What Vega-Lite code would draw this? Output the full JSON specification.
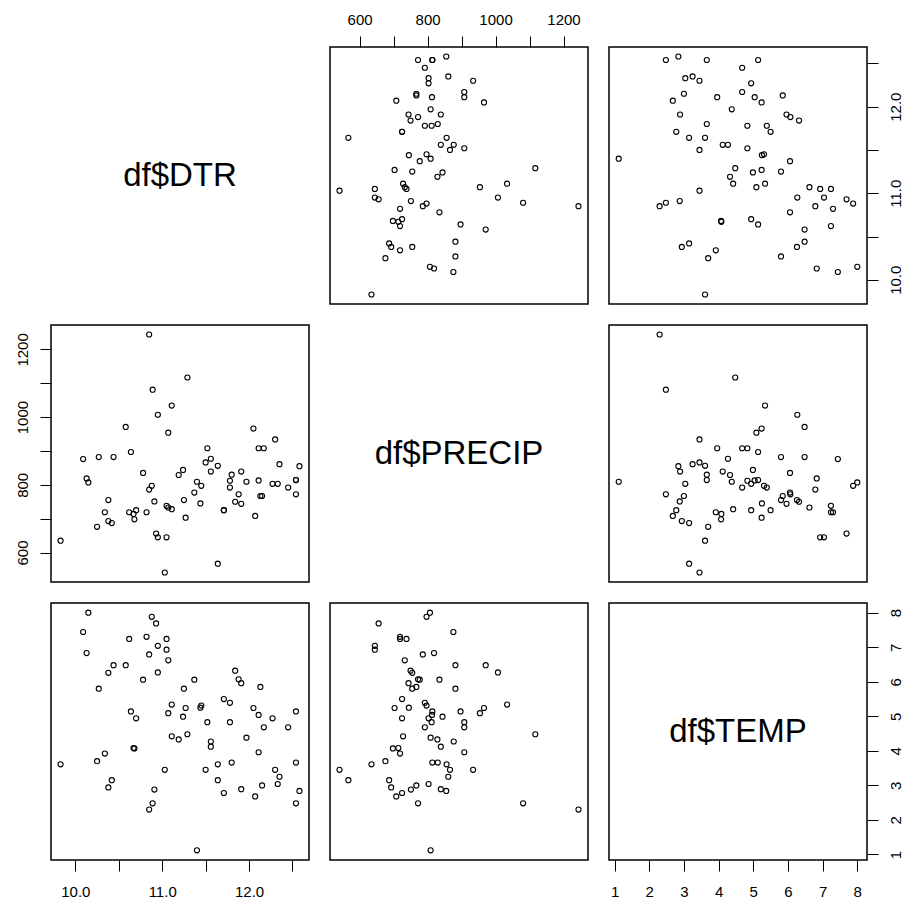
{
  "$schema": "https://vega.github.io/schema/vega-lite/v6.json",
  "padding": {"left": 14, "top": 11, "right": 5, "bottom": 5},
  "background": "white",
  "data": {"values": [
    {"DTR": 10.15, "PRECIP": 807, "TEMP": 8.00},
    {"DTR": 10.88, "PRECIP": 797, "TEMP": 7.88},
    {"DTR": 10.93, "PRECIP": 656, "TEMP": 7.69},
    {"DTR": 10.09, "PRECIP": 876, "TEMP": 7.44},
    {"DTR": 10.62, "PRECIP": 719, "TEMP": 7.24},
    {"DTR": 10.82, "PRECIP": 719, "TEMP": 7.30},
    {"DTR": 11.05, "PRECIP": 738, "TEMP": 7.24},
    {"DTR": 10.95, "PRECIP": 645, "TEMP": 7.04},
    {"DTR": 11.05, "PRECIP": 645, "TEMP": 6.93},
    {"DTR": 10.13, "PRECIP": 819, "TEMP": 6.83},
    {"DTR": 10.85, "PRECIP": 786, "TEMP": 6.79},
    {"DTR": 11.07, "PRECIP": 733, "TEMP": 6.62},
    {"DTR": 10.44, "PRECIP": 882, "TEMP": 6.48},
    {"DTR": 10.58, "PRECIP": 971, "TEMP": 6.48},
    {"DTR": 10.38, "PRECIP": 755, "TEMP": 6.26},
    {"DTR": 10.95, "PRECIP": 1007, "TEMP": 6.27},
    {"DTR": 10.78, "PRECIP": 835, "TEMP": 6.06},
    {"DTR": 10.27, "PRECIP": 882, "TEMP": 5.80},
    {"DTR": 11.25, "PRECIP": 755, "TEMP": 5.80},
    {"DTR": 11.37, "PRECIP": 777, "TEMP": 6.06},
    {"DTR": 11.84, "PRECIP": 750, "TEMP": 6.32},
    {"DTR": 11.88, "PRECIP": 772, "TEMP": 6.07},
    {"DTR": 11.91, "PRECIP": 744, "TEMP": 5.96},
    {"DTR": 12.13, "PRECIP": 767, "TEMP": 5.85},
    {"DTR": 11.11, "PRECIP": 1034, "TEMP": 5.34},
    {"DTR": 11.27, "PRECIP": 703, "TEMP": 5.24},
    {"DTR": 11.07, "PRECIP": 954, "TEMP": 5.09},
    {"DTR": 11.24, "PRECIP": 844, "TEMP": 4.99},
    {"DTR": 11.44, "PRECIP": 745, "TEMP": 5.25},
    {"DTR": 11.45, "PRECIP": 797, "TEMP": 5.31},
    {"DTR": 11.71, "PRECIP": 725, "TEMP": 5.50},
    {"DTR": 11.78, "PRECIP": 792, "TEMP": 5.39},
    {"DTR": 12.05, "PRECIP": 966, "TEMP": 5.24},
    {"DTR": 12.11, "PRECIP": 813, "TEMP": 5.04},
    {"DTR": 12.27, "PRECIP": 803, "TEMP": 4.94},
    {"DTR": 12.54, "PRECIP": 814, "TEMP": 5.14},
    {"DTR": 10.64, "PRECIP": 897, "TEMP": 5.14},
    {"DTR": 10.70, "PRECIP": 725, "TEMP": 4.94},
    {"DTR": 11.52, "PRECIP": 908, "TEMP": 4.83},
    {"DTR": 11.78, "PRECIP": 812, "TEMP": 4.83},
    {"DTR": 12.17, "PRECIP": 908, "TEMP": 4.68},
    {"DTR": 12.45, "PRECIP": 792, "TEMP": 4.68},
    {"DTR": 11.11, "PRECIP": 728, "TEMP": 4.42},
    {"DTR": 11.19, "PRECIP": 829, "TEMP": 4.33},
    {"DTR": 11.29, "PRECIP": 1117, "TEMP": 4.48},
    {"DTR": 11.97, "PRECIP": 809, "TEMP": 4.38},
    {"DTR": 11.56, "PRECIP": 877, "TEMP": 4.27},
    {"DTR": 11.56, "PRECIP": 839, "TEMP": 4.12},
    {"DTR": 10.68, "PRECIP": 698, "TEMP": 4.07},
    {"DTR": 10.67, "PRECIP": 714, "TEMP": 4.08},
    {"DTR": 10.34, "PRECIP": 719, "TEMP": 3.92},
    {"DTR": 10.25, "PRECIP": 676, "TEMP": 3.70},
    {"DTR": 12.11, "PRECIP": 908, "TEMP": 3.96},
    {"DTR": 9.83, "PRECIP": 635, "TEMP": 3.61},
    {"DTR": 11.03, "PRECIP": 541, "TEMP": 3.45},
    {"DTR": 11.50, "PRECIP": 866, "TEMP": 3.45},
    {"DTR": 11.64, "PRECIP": 856, "TEMP": 3.61},
    {"DTR": 11.80, "PRECIP": 830, "TEMP": 3.66},
    {"DTR": 12.54, "PRECIP": 814, "TEMP": 3.66},
    {"DTR": 12.30, "PRECIP": 934, "TEMP": 3.45},
    {"DTR": 12.35, "PRECIP": 861, "TEMP": 3.25},
    {"DTR": 12.33, "PRECIP": 803, "TEMP": 3.04},
    {"DTR": 11.64, "PRECIP": 567, "TEMP": 3.15},
    {"DTR": 10.42, "PRECIP": 687, "TEMP": 3.15},
    {"DTR": 10.38, "PRECIP": 693, "TEMP": 2.94},
    {"DTR": 10.91, "PRECIP": 751, "TEMP": 2.88},
    {"DTR": 11.71, "PRECIP": 725, "TEMP": 2.78},
    {"DTR": 11.91, "PRECIP": 839, "TEMP": 2.89},
    {"DTR": 12.07, "PRECIP": 708, "TEMP": 2.68},
    {"DTR": 12.15, "PRECIP": 767, "TEMP": 3.00},
    {"DTR": 12.58, "PRECIP": 855, "TEMP": 2.84},
    {"DTR": 10.89, "PRECIP": 1081, "TEMP": 2.48},
    {"DTR": 10.85, "PRECIP": 1244, "TEMP": 2.30},
    {"DTR": 12.54, "PRECIP": 772, "TEMP": 2.48},
    {"DTR": 11.40, "PRECIP": 809, "TEMP": 1.12}
  ]},
  "columns": 3,
  "spacing": 21,
  "bounds": "flush",
  "concat": [
    {
      "width": 258, "height": 257,
      "data": {"values": [{"label": "df$DTR"}]},
      "mark": {"type": "text", "font": "Liberation Sans", "fontSize": 33, "color": "black", "align": "center", "baseline": "middle"},
      "encoding": {"text": {"field": "label"}}
    },
    {
      "width": 258, "height": 257,
      "mark": {"type": "point", "shape": "circle", "filled": false, "color": "black", "size": 26, "strokeWidth": 1.1, "opacity": 1},
      "encoding": {
        "x": {"field": "PRECIP", "type": "quantitative", "scale": {"domain": [513, 1272], "nice": false, "zero": false},
              "axis": {"orient": "top", "values": [600, 700, 800, 900, 1000, 1100, 1200], "labelExpr": "datum.value % 200 === 0 ? format(datum.value, 'd') : ''", "labelPadding": 9}},
        "y": {"field": "DTR", "type": "quantitative", "scale": {"domain": [9.72, 12.69], "nice": false, "zero": false}, "axis": null}
      }
    },
    {
      "width": 258, "height": 257,
      "mark": {"type": "point", "shape": "circle", "filled": false, "color": "black", "size": 26, "strokeWidth": 1.1, "opacity": 1},
      "encoding": {
        "x": {"field": "TEMP", "type": "quantitative", "scale": {"domain": [0.84, 8.28], "nice": false, "zero": false}, "axis": null},
        "y": {"field": "DTR", "type": "quantitative", "scale": {"domain": [9.72, 12.69], "nice": false, "zero": false},
              "axis": {"orient": "right", "values": [10, 10.5, 11, 11.5, 12, 12.5], "labelExpr": "datum.value % 1 === 0 ? format(datum.value, '.1f') : ''", "labelAngle": -90, "labelAlign": "center", "labelBaseline": "top", "labelPadding": 10}}
      }
    },
    {
      "width": 258, "height": 257,
      "mark": {"type": "point", "shape": "circle", "filled": false, "color": "black", "size": 26, "strokeWidth": 1.1, "opacity": 1},
      "encoding": {
        "x": {"field": "DTR", "type": "quantitative", "scale": {"domain": [9.72, 12.69], "nice": false, "zero": false}, "axis": null},
        "y": {"field": "PRECIP", "type": "quantitative", "scale": {"domain": [513, 1272], "nice": false, "zero": false},
              "axis": {"orient": "left", "values": [600, 700, 800, 900, 1000, 1100, 1200], "labelExpr": "datum.value % 200 === 0 ? format(datum.value, 'd') : ''", "labelAngle": -90, "labelAlign": "center", "labelBaseline": "bottom", "labelPadding": 10}}
      }
    },
    {
      "width": 258, "height": 257,
      "data": {"values": [{"label": "df$PRECIP"}]},
      "mark": {"type": "text", "font": "Liberation Sans", "fontSize": 33, "color": "black", "align": "center", "baseline": "middle"},
      "encoding": {"text": {"field": "label"}}
    },
    {
      "width": 258, "height": 257,
      "mark": {"type": "point", "shape": "circle", "filled": false, "color": "black", "size": 26, "strokeWidth": 1.1, "opacity": 1},
      "encoding": {
        "x": {"field": "TEMP", "type": "quantitative", "scale": {"domain": [0.84, 8.28], "nice": false, "zero": false}, "axis": null},
        "y": {"field": "PRECIP", "type": "quantitative", "scale": {"domain": [513, 1272], "nice": false, "zero": false}, "axis": null}
      }
    },
    {
      "width": 258, "height": 257,
      "mark": {"type": "point", "shape": "circle", "filled": false, "color": "black", "size": 26, "strokeWidth": 1.1, "opacity": 1},
      "encoding": {
        "x": {"field": "DTR", "type": "quantitative", "scale": {"domain": [9.72, 12.69], "nice": false, "zero": false},
              "axis": {"orient": "bottom", "values": [10, 10.5, 11, 11.5, 12, 12.5], "labelExpr": "datum.value % 1 === 0 ? format(datum.value, '.1f') : ''", "labelPadding": 13}},
        "y": {"field": "TEMP", "type": "quantitative", "scale": {"domain": [0.84, 8.28], "nice": false, "zero": false}, "axis": null}
      }
    },
    {
      "width": 258, "height": 257,
      "mark": {"type": "point", "shape": "circle", "filled": false, "color": "black", "size": 26, "strokeWidth": 1.1, "opacity": 1},
      "encoding": {
        "x": {"field": "PRECIP", "type": "quantitative", "scale": {"domain": [513, 1272], "nice": false, "zero": false}, "axis": null},
        "y": {"field": "TEMP", "type": "quantitative", "scale": {"domain": [0.84, 8.28], "nice": false, "zero": false}, "axis": null}
      }
    },
    {
      "width": 258, "height": 257,
      "layer": [
        {
          "mark": {"type": "point", "opacity": 0},
          "encoding": {
            "x": {"field": "TEMP", "type": "quantitative", "scale": {"domain": [0.84, 8.28], "nice": false, "zero": false},
                  "axis": {"orient": "bottom", "values": [1, 2, 3, 4, 5, 6, 7, 8], "format": "d", "labelPadding": 13}},
            "y": {"field": "TEMP", "type": "quantitative", "scale": {"domain": [0.84, 8.28], "nice": false, "zero": false},
                  "axis": {"orient": "right", "values": [1, 2, 3, 4, 5, 6, 7, 8], "format": "d", "labelAngle": -90, "labelAlign": "center", "labelBaseline": "top", "labelPadding": 10}}
          }
        },
        {
          "data": {"values": [{"label": "df$TEMP"}]},
          "mark": {"type": "text", "font": "Liberation Sans", "fontSize": 33, "color": "black", "align": "center", "baseline": "middle"},
          "encoding": {"text": {"field": "label"}}
        }
      ]
    }
  ],
  "config": {
    "view": {"stroke": "black", "strokeWidth": 1.5},
    "axis": {"domain": false, "grid": false, "ticks": true, "tickColor": "black", "tickSize": 11, "tickWidth": 1,
             "labelFont": "Liberation Sans", "labelFontSize": 15, "labelColor": "black", "labelOverlap": false, "labelFlush": false, "title": null}
  }
}
